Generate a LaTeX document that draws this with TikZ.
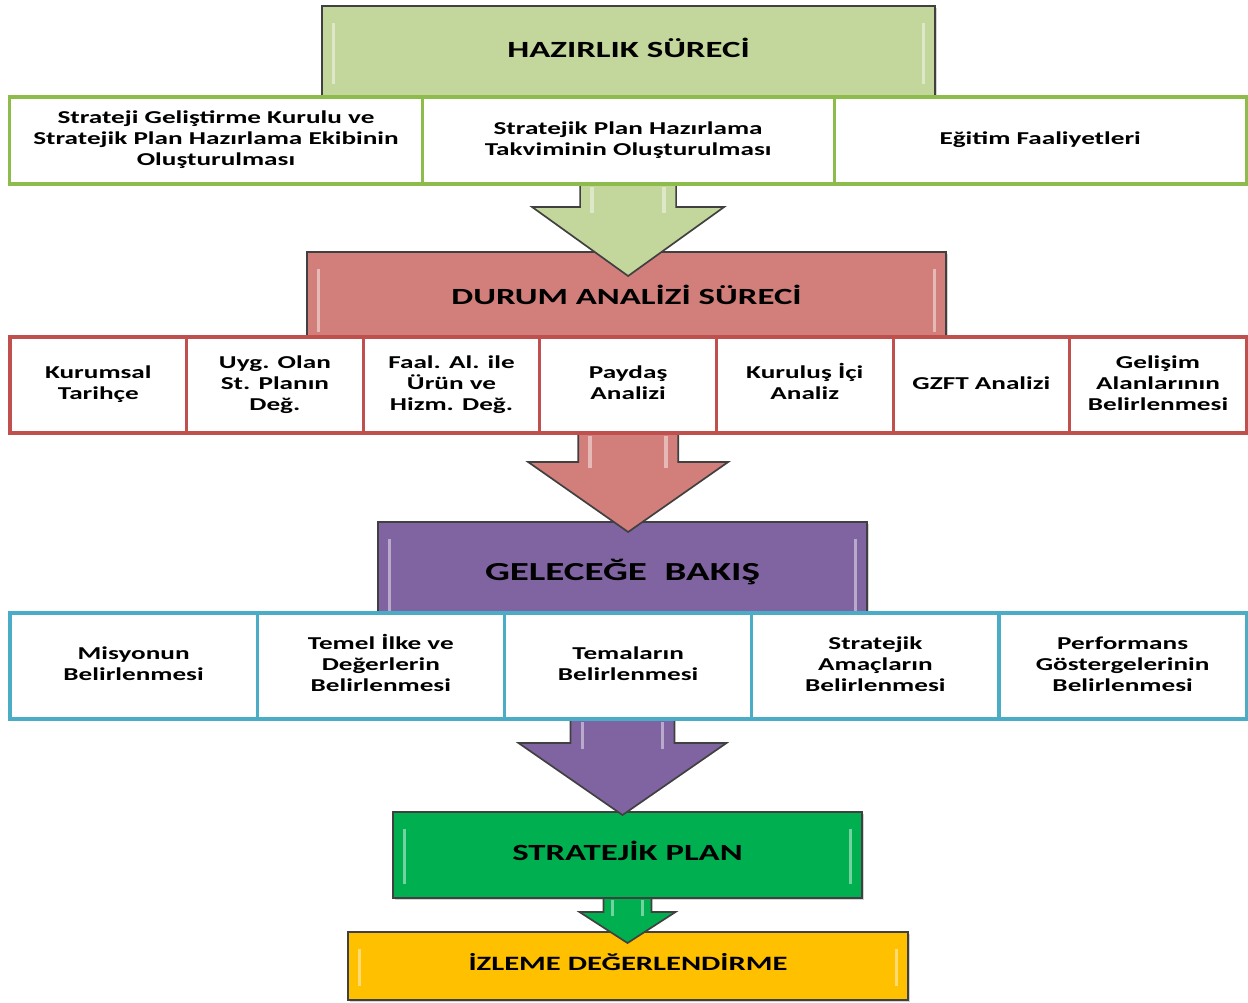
\documentclass[tikz,border=0pt]{standalone}
\usepackage{fontspec}
\setmainfont{Carlito}
\usetikzlibrary{positioning,calc,shadows}

\definecolor{hzgreen}{HTML}{C3D69B}
\definecolor{hzline}{HTML}{8DBB4C}
\definecolor{darose}{HTML}{D27E7B}
\definecolor{daline}{HTML}{C0504D}
\definecolor{gbpurple}{HTML}{8064A2}
\definecolor{gbline}{HTML}{4BACC6}
\definecolor{spgreen}{HTML}{00B050}
\definecolor{izgold}{HTML}{FFC000}
\definecolor{edge}{HTML}{404040}

% stretched, centred lines (the picture's lettering is wide)
\newcommand{\wide}[1]{\scalebox{1.5}[1]{\begin{tabular}{@{}c@{}}#1\end{tabular}}}

\tikzset{
  head/.style={draw=edge, line width=1.4pt, outer sep=0pt, inner sep=0pt,
    font=\fontsize{16.5}{19.5}\selectfont\bfseries,
    drop shadow={opacity=.35, shadow xshift=1.5pt, shadow yshift=-1.5pt},
    path picture={
      \draw[white, opacity=.45, line width=2pt]
        ([xshift=8pt,yshift=-12pt]path picture bounding box.north west) --
        ([xshift=8pt,yshift=10pt]path picture bounding box.south west)
        ([xshift=-8pt,yshift=-12pt]path picture bounding box.north east) --
        ([xshift=-8pt,yshift=10pt]path picture bounding box.south east);}},
  stepcell/.style={draw=#1, fill=white, line width=2.2pt, outer sep=0pt, inner sep=0pt,
    font=\fontsize{12.9}{14.9}\selectfont\bfseries},
  blockarrow/.style={draw=edge, line width=1.2pt, line join=miter},
  shine/.style={white, opacity=.45, line width=2.5pt}
}

\begin{document}
\begin{tikzpicture}[x=0.025cm, y=-0.025cm]
  \useasboundingbox (0,0) rectangle (1248,1003);

  % hazirlik sureci
  \node[head, fill=hzgreen, minimum width=15.325cm, minimum height=2.3cm] (hz) at (628.5,52) {\wide{HAZIRLIK SÜRECİ}};
  \node[stepcell=hzline, minimum width=10.3cm, minimum height=2.175cm] (h1) at (216,140.5)
    {\wide{Strateji Geliştirme Kurulu ve\\Stratejik Plan Hazırlama Ekibinin\\Oluşturulması}};
  \node[stepcell=hzline, minimum width=10.3cm, minimum height=2.175cm, right=0pt of h1] (h2)
    {\wide{Stratejik Plan Hazırlama\\Takviminin Oluşturulması}};
  \node[stepcell=hzline, minimum width=10.3cm, minimum height=2.175cm, right=0pt of h2] (h3)
    {\wide{Eğitim Faaliyetleri}};

  % durum analizi
  \node[head, fill=darose, minimum width=15.975cm, minimum height=2.35cm] (da) at (626.5,299) {\wide{DURUM ANALİZİ SÜRECİ}};
  \filldraw[blockarrow, fill=hzgreen] ($(h2.south)+(-48,2)$) -- ++(0,21) -- ++(-48,0) -- ++(96,69) -- ++(96,-69) -- ++(-48,0) -- ++(0,-21);
  \draw[shine] ($(h2.south)+(-36,3)$) -- ++(0,26) ($(h2.south)+(36,3)$) -- ++(0,26);
  \node[stepcell=daline, minimum width=4.4143cm, minimum height=2.4cm] (d1) at (98.3,385) {\wide{Kurumsal\\Tarihçe}};
  \node[stepcell=daline, minimum width=4.4143cm, minimum height=2.4cm, right=0pt of d1] (d2) {\wide{Uyg. Olan\\St. Planın\\Değ.}};
  \node[stepcell=daline, minimum width=4.4143cm, minimum height=2.4cm, right=0pt of d2] (d3) {\wide{Faal. Al. ile\\Ürün ve\\Hizm. Değ.}};
  \node[stepcell=daline, minimum width=4.4143cm, minimum height=2.4cm, right=0pt of d3] (d4) {\wide{Paydaş\\Analizi}};
  \node[stepcell=daline, minimum width=4.4143cm, minimum height=2.4cm, right=0pt of d4] (d5) {\wide{Kuruluş İçi\\Analiz}};
  \node[stepcell=daline, minimum width=4.4143cm, minimum height=2.4cm, right=0pt of d5] (d6) {\wide{GZFT Analizi}};
  \node[stepcell=daline, minimum width=4.4143cm, minimum height=2.4cm, right=0pt of d6] (d7) {\wide{Gelişim\\Alanlarının\\Belirlenmesi}};

  % gelecege bakis
  \node[head, fill=gbpurple, minimum width=12.225cm, minimum height=2.6cm, font=\fontsize{18.5}{22}\selectfont\bfseries] (gb) at (622.5,574) {\wide{GELECEĞE~~BAKIŞ}};
  \filldraw[blockarrow, fill=darose] ($(d4.south)+(-50,2)$) -- ++(0,27) -- ++(-50,0) -- ++(100,70) -- ++(100,-70) -- ++(-50,0) -- ++(0,-27);
  \draw[shine] ($(d4.south)+(-38,3)$) -- ++(0,32) ($(d4.south)+(38,3)$) -- ++(0,32);
  \node[stepcell=gbline, minimum width=6.18cm, minimum height=2.65cm] (g1) at (133.6,666) {\wide{Misyonun\\Belirlenmesi}};
  \node[stepcell=gbline, minimum width=6.18cm, minimum height=2.65cm, right=0pt of g1] (g2) {\wide{Temel İlke ve\\Değerlerin\\Belirlenmesi}};
  \node[stepcell=gbline, minimum width=6.18cm, minimum height=2.65cm, right=0pt of g2] (g3) {\wide{Temaların\\Belirlenmesi}};
  \node[stepcell=gbline, minimum width=6.18cm, minimum height=2.65cm, right=0pt of g3] (g4) {\wide{Stratejik\\Amaçların\\Belirlenmesi}};
  \node[stepcell=gbline, minimum width=6.18cm, minimum height=2.65cm, right=0pt of g4] (g5) {\wide{Performans\\Göstergelerinin\\Belirlenmesi}};

  % stratejik plan
  \node[head, fill=spgreen, minimum width=11.725cm, minimum height=2.15cm] (sp) at (627.5,855) {\wide{STRATEJİK PLAN}};
  \filldraw[blockarrow, fill=gbpurple] ($(g3.south -| gb.south)+(-52,2)$) -- ++(0,22) -- ++(-52,0) -- ++(104,72) -- ++(104,-72) -- ++(-52,0) -- ++(0,-22);
  \draw[shine] ($(g3.south -| gb.south)+(-40,3)$) -- ++(0,27) ($(g3.south -| gb.south)+(40,3)$) -- ++(0,27);

  % izleme
  \node[head, fill=izgold, minimum width=14cm, minimum height=1.7cm, font=\fontsize{14.5}{17}\selectfont\bfseries] (iz) at (628,966) {\wide{İZLEME DEĞERLENDİRME}};
  \filldraw[blockarrow, fill=spgreen] ($(sp.south)+(-24,1)$) -- ++(0,13) -- ++(-24,0) -- ++(48,31) -- ++(48,-31) -- ++(-24,0) -- ++(0,-13);
  \draw[shine] ($(sp.south)+(-15,2)$) -- ++(0,16) ($(sp.south)+(15,2)$) -- ++(0,16);
\end{tikzpicture}
\end{document}
